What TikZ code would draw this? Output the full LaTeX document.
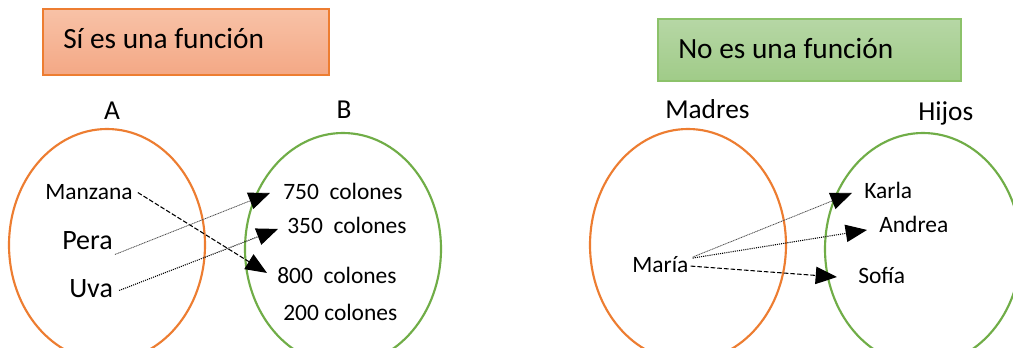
\documentclass[tikz,border=0pt]{standalone}
\usepackage{fontspec}
\setmainfont{Carlito}
\usetikzlibrary{arrows.meta,calc}
\definecolor{orline}{HTML}{ED7D31}
\definecolor{grline}{HTML}{70AD47}
\definecolor{orTop}{HTML}{F8C2A7}
\definecolor{orBot}{HTML}{F4A885}
\definecolor{grTop}{HTML}{B6D7A5}
\definecolor{grBot}{HTML}{A0CB88}
\definecolor{grBorder}{HTML}{8CC26A}
\tikzset{
  setA/.style={draw=orline, line width=1.6pt},
  setB/.style={draw=grline, line width=1.6pt},
  item/.style={inner sep=0pt, anchor=base west, font=\fontsize{17.6pt}{20pt}\selectfont},
  bigitem/.style={inner sep=0pt, anchor=base west, font=\fontsize{21pt}{24pt}\selectfont},
  setlabel/.style={inner sep=0pt, anchor=base, font=\fontsize{20.5pt}{24pt}\selectfont},
  title/.style={inner sep=0pt, anchor=base west, font=\fontsize{22pt}{26pt}\selectfont},
  tip/.style={-{Triangle[length=16pt,width=13pt,color=black]}},
  dashedcon/.style={tip, line width=0.8pt, dash pattern=on 3.5pt off 1.5pt},
  dottedcon/.style={tip, line width=0.8pt, dash pattern=on 0.8pt off 0.8pt},
  thincon/.style={tip, line width=0.6pt, draw=black!70, dash pattern=on 0.8pt off 0.5pt},
}
\begin{document}
\begin{tikzpicture}[x=0.75pt, y=-0.75pt]
\useasboundingbox (0,0) rectangle (1013,347);
\clip (0,0) rectangle (1013,347);
\fill[white] (0,0) rectangle (1013,347);

% title boxes
\shade[top color=orTop, bottom color=orBot] (43,9) rectangle (329,75);
\draw[orline, line width=0.9pt] (43,9) rectangle (329,75);
\node[title] (t1) at (63,48) {Sí es una función};
\shade[top color=grTop, bottom color=grBot] (658,19) rectangle (961,81);
\draw[grBorder, line width=0.9pt] (658,19) rectangle (961,81);
\node[title] (t2) at (678,58) {No es una función};

% set labels
\node[setlabel] (lA) at (112,119) {A};
\node[setlabel] (lB) at (344,118) {B};
\node[setlabel, anchor=base west] (lM) at (665,118) {Madres};
\node[setlabel, anchor=base west] (lH) at (918,120) {Hijos};

% ellipses
\draw[setA] (107,245) ellipse [x radius=98, y radius=116];
\draw[setB] (343,249) ellipse [x radius=98, y radius=116];
\draw[setA] (688,245) ellipse [x radius=98, y radius=116];
\draw[setB] (923,249) ellipse [x radius=98, y radius=116];

% left items
\node[item] (manz) at (45,199) {Manzana};
\node[bigitem] (pera) at (62,249) {Pera};
\node[bigitem] (uva) at (69,297) {Uva};
\node[item] (c750) at (283,199) {750\ \ colones};
\node[item] (c350) at (287,233) {350\ \ colones};
\node[item] (c800) at (277,283) {800\ \ colones};
\node[item] (c200) at (283,320) {200 colones};

% right items
\node[item] (maria) at (632,272) {María};
\node[item] (karla) at (864,198) {Karla};
\node[item] (andrea) at (879,232) {Andrea};
\node[item] (sofia) at (858,283) {Sofía};

% connectors left
\draw[dashedcon] ($(manz.east)+(5,1)$) -- ($(c800.west)+(-10,-2)$);
\draw[thincon] ($(pera.south east)+(2,5)$) -- ($(c750.west)+(-13,2)$);
\draw[dottedcon] ($(uva.south east)+(6,-7)$) -- ($(c350.west)+(-9,4)$);

% connectors right
\draw[thincon] ($(maria.east)+(4,-7)$) -- ($(karla.west)+(-12,3)$);
\draw[dottedcon] ($(maria.east)+(4,-6)$) -- ($(andrea.west)+(-12,6)$);
\draw[dashedcon] ($(maria.east)+(2,2)$) -- ($(sofia.west)+(-21,2)$);
\end{tikzpicture}
\end{document}
